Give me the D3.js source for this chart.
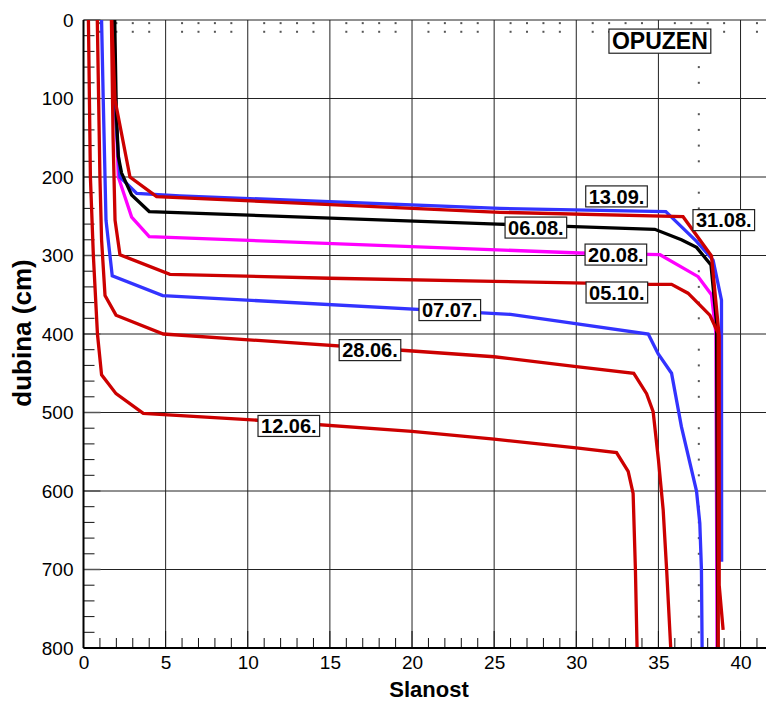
<!DOCTYPE html>
<html>
<head>
<meta charset="utf-8">
<script src="https://cdn.jsdelivr.net/npm/d3@7"></script>
<style>
  body { margin: 0; background: #fff; }
  svg { display: block; font-family: "Liberation Sans", Arial, sans-serif; }
</style>
</head>
<body>
<div id="chart"></div>
<script>
// salinity profiles, Opuzen: [salinity, depth cm]
var s1206 = [[0.3,0],[0.42,200],[0.6,300],[0.85,400],[1.1,452],[1.98,476],[3.64,501],[10,509],[20,524],[25,534],[30,545],[32.45,551],[33.16,575],[33.46,603],[33.6,700],[33.7,800]];
var s2806 = [[0.84,0],[1.0,200],[1.1,280],[1.31,351],[1.98,376],[4.86,400],[19.6,421],[25,429],[30,441.6],[33.5,450],[34.28,476],[34.68,499],[35.0,560],[35.29,624],[35.5,700],[35.75,800]];
var s0707 = [[1.1,0],[1.2,100],[1.37,255],[1.75,326],[4.82,351],[26,375],[29,384],[34.38,400],[34.98,425],[35.8,450],[36.4,518],[37.32,600],[37.52,641],[37.62,700],[37.66,800]];
var s0510 = [[1.7,0],[1.8,150],[1.92,255],[2.22,299],[5.26,324],[15,329],[25,333],[34.5,336.7],[35.8,336.7],[36.8,348],[38.13,376],[38.64,399],[38.64,800]];
var s2008 = [[1.85,0],[1.95,100],[2.12,200],[2.93,251],[4.0,276],[30.2,296.8],[35.1,299],[37.42,327],[38.23,350],[38.5,399],[38.57,800]];
var s0608 = [[1.9,0],[2.0,120],[2.12,174],[2.32,195],[2.93,223],[4.0,244],[25.2,260],[34.78,266.6],[36.4,280],[37.32,289.6],[38.2,312],[38.54,386],[38.62,800]];
var s1309 = [[1.8,0],[1.95,120],[2.22,200],[3.24,221],[5.87,224],[25.35,240],[35.45,244],[37.32,282],[38.33,306],[38.84,357],[38.85,690]];
var s3108 = [[1.72,0],[1.92,102],[2.83,200],[4.45,225],[25.35,245],[36.5,250.6],[38.23,300.6],[38.7,403],[38.7,720],[38.94,777]];

var seriesNames = ["20.08.","07.07.","13.09.","06.08.","12.06.","28.06.","05.10.","31.08."];
var seriesData  = [s2008, s0707, s1309, s0608, s1206, s2806, s0510, s3108];
var seriesColor = ["#ff00ff","#3333ff","#3333ff","#000000","#cc0000","#cc0000","#cc0000","#cc0000"];
// label anchor points (salinity, depth)
var labelX = [32.41, 22.3, 32.45, 27.54, 12.5, 17.44, 32.47, 38.98];
var labelD = [298.7, 369.4, 224.6, 264.3, 517, 420.4, 347, 254.8];

var xTicks = [0,5,10,15,20,25,30,35,40];
var yTicks = [0,100,200,300,400,500,600,700,800];
var title = "OPUZEN";

var W = 766, H = 702;
var svg = d3.select("#chart").append("svg").attr("width", W).attr("height", H);

var x = d3.scaleLinear().domain([0, 41.55]).range([83.5, 766]);
var y = d3.scaleLinear().domain([0, 800]).range([20, 648]);

// grid
var grid = svg.append("g");
grid.selectAll(".gx").data(xTicks.slice(1)).enter().append("line")
  .attr("x1", d => x(d)).attr("x2", d => x(d))
  .attr("y1", y(0)).attr("y2", y(800))
  .attr("stroke", "#222").attr("stroke-width", 1);
grid.selectAll(".gy").data(yTicks).enter().append("line")
  .attr("x1", x(0)).attr("x2", W)
  .attr("y1", d => y(d)).attr("y2", d => y(d))
  .attr("stroke", "#222").attr("stroke-width", 1);

// minor ticks
var xMinor = d3.range(0, 42).filter(d => d % 5 != 0);
var yMinor = d3.range(20, 800, 20).filter(d => d % 100 != 0);
grid.selectAll(".mx").data(xMinor).enter().append("line")
  .attr("x1", d => x(d)).attr("x2", d => x(d))
  .attr("y1", y(800)).attr("y2", y(800) - 10)
  .attr("stroke", "#111");
grid.selectAll(".Mx").data(xTicks).enter().append("line")
  .attr("x1", d => x(d)).attr("x2", d => x(d))
  .attr("y1", y(800)).attr("y2", y(800) - 17)
  .attr("stroke", "#111");
grid.selectAll(".my").data(yMinor).enter().append("line")
  .attr("x1", x(0)).attr("x2", x(0) + 11)
  .attr("y1", d => y(d)).attr("y2", d => y(d))
  .attr("stroke", "#111");
grid.selectAll(".My").data(yTicks).enter().append("line")
  .attr("x1", x(0)).attr("x2", x(0) + 17)
  .attr("y1", d => y(d)).attr("y2", d => y(d))
  .attr("stroke", "#555").attr("stroke-width", 1.5);

// dotted top ticks and the dotted vertical at 37.5
var dots = svg.append("g").attr("fill", "#555");
[4, 15].forEach(function(dd) {
  dots.selectAll(null).data(xMinor).enter().append("rect")
    .attr("x", d => x(d) - 1).attr("y", y(dd) - 1).attr("width", 2).attr("height", 2);
});
dots.selectAll(null).data(yMinor).enter().append("rect")
  .attr("x", x(37.46) - 1).attr("y", d => y(d) - 1).attr("width", 2).attr("height", 2);

// profiles
var line = d3.line().x(d => x(d[0])).y(d => y(d[1]));
svg.append("g").selectAll("path").data(seriesData).enter().append("path")
  .attr("d", line)
  .attr("fill", "none")
  .attr("stroke", (d, i) => seriesColor[i])
  .attr("stroke-width", 3.3)
  .attr("stroke-linejoin", "miter");

// axis lines
svg.append("line").attr("x1", x(0)).attr("x2", x(0)).attr("y1", y(0)).attr("y2", y(800))
  .attr("stroke", "#000").attr("stroke-width", 2);
svg.append("line").attr("x1", x(0)).attr("x2", W).attr("y1", y(800)).attr("y2", y(800))
  .attr("stroke", "#000").attr("stroke-width", 2);

// tick labels
var xa = svg.append("g").attr("transform", "translate(0," + y(800) + ")")
  .call(d3.axisBottom(x).tickValues(xTicks).tickSize(0).tickPadding(8));
var ya = svg.append("g").attr("transform", "translate(" + x(0) + ",0)")
  .call(d3.axisLeft(y).tickValues(yTicks).tickSize(0).tickPadding(10));
[xa, ya].forEach(function(a) {
  a.select(".domain").remove();
  a.selectAll("text").attr("font-size", 19).attr("fill", "#000")
    .attr("font-family", "Liberation Sans, Arial, sans-serif");
});

// axis titles
svg.append("text").attr("x", 429).attr("y", 697)
  .attr("text-anchor", "middle").attr("font-size", 22).attr("font-weight", "bold")
  .text("Slanost");
svg.append("text").attr("transform", "translate(31,333) rotate(-90)")
  .attr("text-anchor", "middle").attr("font-size", 26).attr("font-weight", "bold")
  .text("dubina (cm)");

// boxed labels
function boxLabel(cx, cy, txt, fs) {
  var g = svg.append("g");
  var t = g.append("text").attr("x", cx).attr("y", cy).attr("dy", "0.36em")
    .attr("text-anchor", "middle").attr("font-size", fs).attr("font-weight", "bold")
    .text(txt);
  var b = t.node().getBBox();
  g.insert("rect", "text")
    .attr("x", b.x - 3).attr("y", cy - fs * 0.52).attr("width", b.width + 6).attr("height", fs * 1.05)
    .attr("fill", "#fff").attr("stroke", "#222").attr("stroke-width", 1.2);
}
seriesNames.forEach(function(n, i) {
  boxLabel(x(labelX[i]), y(labelD[i]), n, 20);
});
boxLabel(x(35.09), y(26.8), title, 23);
</script>
</body>
</html>
